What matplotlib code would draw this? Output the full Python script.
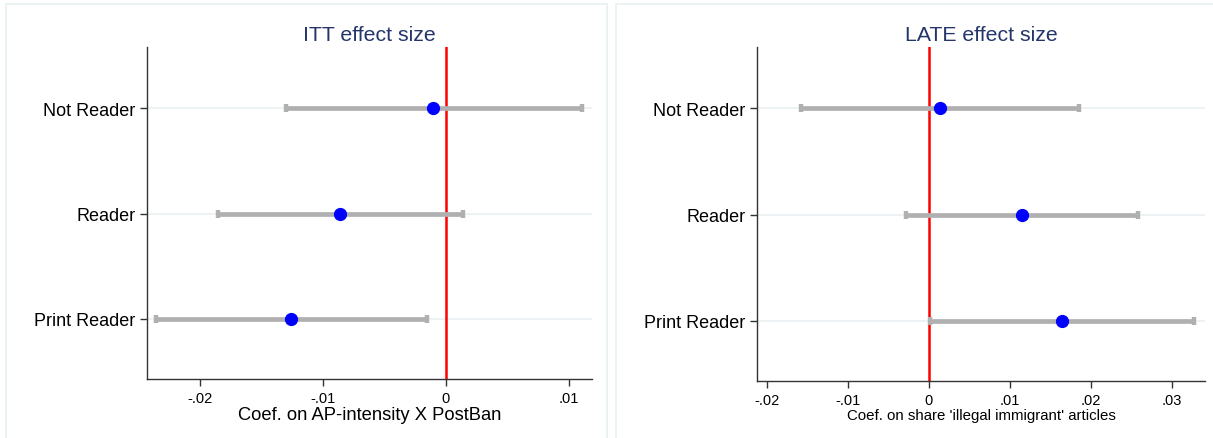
import matplotlib.pyplot as plt
from matplotlib.patches import Rectangle

plt.rcParams['font.family'] = ['Liberation Sans', 'DejaVu Sans']

groups = ['Print Reader', 'Reader', 'Not Reader']

# ITT panel
itt_coef = [-0.0126, -0.0086, -0.0010]
itt_lo = [-0.0236, -0.0185, -0.0130]
itt_hi = [-0.0015, 0.0014, 0.0111]
itt_ticks = [-0.02, -0.01, 0, 0.01]
itt_ticklabels = ['-.02', '-.01', '0', '.01']

# LATE panel
late_coef = [0.0164, 0.0115, 0.0014]
late_lo = [0.0001, -0.0028, -0.0158]
late_hi = [0.0327, 0.0258, 0.0186]
late_ticks = [-0.02, -0.01, 0, 0.01, 0.02, 0.03]
late_ticklabels = ['-.02', '-.01', '0', '.01', '.02', '.03']

W, H = 1213, 439
fig = plt.figure(figsize=(W / 100, H / 100), dpi=100)

# light panel frames (graph regions)
for x0, x1 in [(6, 607), (616, 1220)]:
    fig.patches.append(Rectangle((x0 / W, -0.05), (x1 - x0) / W, 1.05 - 5 / H,
                                 transform=fig.transFigure, fill=False,
                                 edgecolor='#e8f0f2', lw=1.2))

ax1 = fig.add_axes([147 / W, 1 - 380 / H, (592 - 147) / W, (380 - 48) / H])
ax2 = fig.add_axes([757 / W, 1 - 382 / H, (1205 - 757) / W, (382 - 48) / H])


def panel(ax, coef, lo, hi, ticks, ticklabels, xlim, title, xlabel, xlsize):
    ypos = list(range(1, len(groups) + 1))
    for y in ypos:
        ax.axhline(y, color='#eaf1f3', lw=1.2, zorder=0)
    ax.axvline(0, color='#ff0000', lw=1.8, zorder=2)
    err = [[c - l for c, l in zip(coef, lo)], [h - c for c, h in zip(coef, hi)]]
    ax.errorbar(coef, ypos, xerr=err, fmt='none', ecolor='#b0b0b0',
                elinewidth=3.4, capsize=3, capthick=3.2, zorder=3)
    ax.plot(coef, ypos, 'o', color='#0000ff', markersize=8.5, zorder=4)
    ax.set_yticks(ypos)
    ax.set_yticklabels(groups, fontsize=13)
    ax.set_ylim(0.43, 3.58)
    ax.set_xticks(ticks)
    ax.set_xticklabels(ticklabels, fontsize=10.5)
    ax.set_xlim(*xlim)
    ax.set_title(title, fontsize=15.3, color='#24356a', pad=5)
    ax.set_xlabel(xlabel, fontsize=xlsize, labelpad=1)
    for s in ['top', 'right']:
        ax.spines[s].set_visible(False)
    for s in ['left', 'bottom']:
        ax.spines[s].set_color('#333333')
        ax.spines[s].set_linewidth(1.0)
    ax.tick_params(color='#333333', length=5, width=1)


panel(ax1, itt_coef, itt_lo, itt_hi, itt_ticks, itt_ticklabels,
      (-0.0243, 0.0119), 'ITT effect size', 'Coef. on AP-intensity X PostBan', 13.2)
panel(ax2, late_coef, late_lo, late_hi, late_ticks, late_ticklabels,
      (-0.0212, 0.0341), 'LATE effect size',
      "Coef. on share 'illegal immigrant' articles", 10.8)

fig.savefig('out.png', dpi=100)
